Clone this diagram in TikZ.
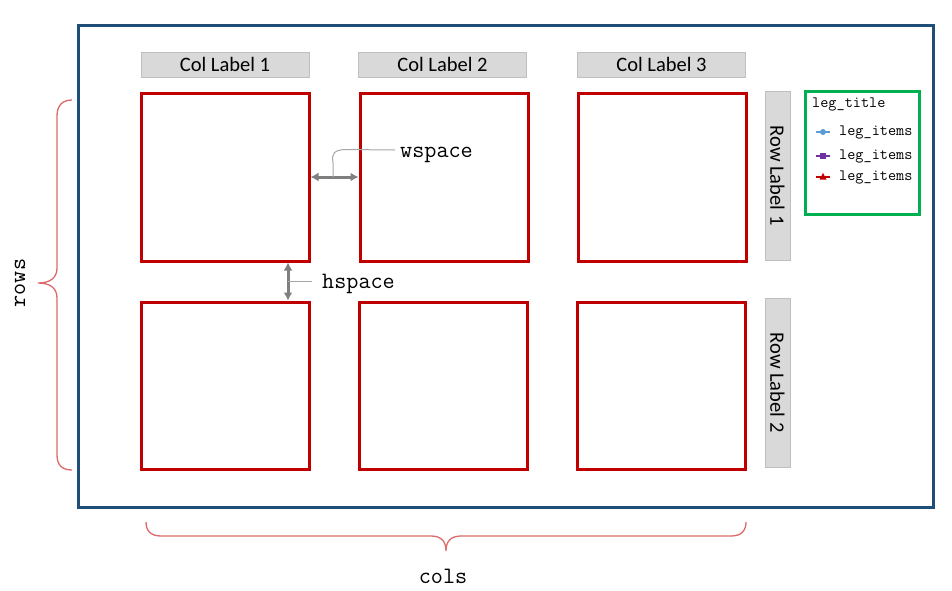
\documentclass[tikz,border=0pt]{standalone}
\usepackage{fontspec}
\setmainfont{Carlito}
\usetikzlibrary{arrows.meta,calc}
\definecolor{frameblue}{HTML}{1F4E79}
\definecolor{cellred}{HTML}{C00000}
\definecolor{labgray}{HTML}{D9D9D9}
\definecolor{labedge}{HTML}{BFBFBF}
\definecolor{leggreen}{HTML}{00B050}
\definecolor{arrgray}{HTML}{7F7F7F}
\definecolor{callgray}{HTML}{A6A6A6}
\definecolor{bracered}{HTML}{DD6A6A}
\definecolor{mkblue}{HTML}{5B9BD5}
\definecolor{mkpurple}{HTML}{7030A0}
\tikzset{
  cellbox/.style={draw=cellred, line width=3pt, minimum width=168pt, minimum height=168pt, inner sep=0pt},
  collab/.style={draw=labedge, fill=labgray, line width=1pt, minimum width=168pt, minimum height=25pt, inner sep=0pt, font=\fontsize{20.5}{22}\selectfont},
  rowlab/.style={draw=labedge, fill=labgray, line width=1pt, minimum width=169pt, minimum height=25pt, inner sep=0pt, rotate=-90, font=\fontsize{20.5}{22}\selectfont},
  garrow/.style={draw=arrgray, line width=3pt, {Latex[length=8pt,width=9pt]}-{Latex[length=8pt,width=9pt]}},
  callout/.style={draw=callgray, line width=1pt},
  monolab/.style={font=\ttfamily\fontsize{23.5}{25}\selectfont, inner sep=0pt},
  legtext/.style={font=\ttfamily\fontsize{15.8}{17}\selectfont, inner sep=0pt, anchor=west},
  bracestyle/.style={draw=bracered, line width=1.3pt},
  legline/.style={line width=2pt}
}
\begin{document}
\begin{tikzpicture}[x=1pt,y=-1pt]
\useasboundingbox (0,0) rectangle (952,590);
% outer frame
\node[draw=frameblue, line width=3pt, minimum width=855pt, minimum height=482pt, inner sep=0pt] (frame) at (505.5,266) {};
% column labels
\node[collab] (cl1) at (225,64.5) {Col Label 1};
\node[collab] (cl2) at (442.5,64.5) {Col Label 2};
\node[collab] (cl3) at (661.5,64.5) {Col Label 3};
% cells
\node[cellbox] (c11) at (225,177) {};
\node[cellbox] (c12) at (444,177) {};
\node[cellbox] (c13) at (662,177) {};
\node[cellbox, minimum height=167pt] (c21) at (225,385.5) {};
\node[cellbox, minimum height=167pt] (c22) at (443,385.5) {};
\node[cellbox, minimum height=167pt] (c23) at (661,385.5) {};
% row labels
\node[rowlab] (rl1) at (777.5,175.5) {Row Label 1};
\node[rowlab] (rl2) at (777.5,382.5) {Row Label 2};
% legend
\node[draw=leggreen, line width=3pt, minimum width=114pt, minimum height=123pt, inner sep=0pt] (leg) at (862,152.5) {};
\node[legtext] (lt) at (812,104) {leg\_title};
\coordinate (m1) at (823,132);
\coordinate (m2) at (823,156);
\coordinate (m3) at (823,177);
\draw[legline, mkblue] (816,132) -- (830,132);
\fill[mkblue] (m1) circle (3pt);
\draw[legline, mkpurple] (816,156) -- (830,156);
\fill[mkpurple] ($(m2)+(-3,-3)$) rectangle ++(6,6);
\draw[legline, cellred] (816,177) -- (830,177);
\fill[cellred] (823,173) -- (826.5,179.5) -- (819.5,179.5) -- cycle;
\node[legtext] (li1) at (839,132) {leg\_items};
\node[legtext] (li2) at (839,156) {leg\_items};
\node[legtext] (li3) at (839,177) {leg\_items};
% wspace
\draw[garrow] (c11.east) -- (c12.west);
\coordinate (wmid) at ($(c11.east)!0.47!(c12.west)$);
\node[monolab, anchor=west] (ws) at (400,155) {wspace};
\coordinate (wend) at (395,150);
\draw[callout] (wmid) -- ++(0,-14) .. controls (331,153) and (335,150) .. (345,149.5) -- (wend);
% hspace
\coordinate (hx) at (288,0);
\draw[garrow] (c11.south -| hx) -- (c21.north -| hx);
\coordinate (hmid) at ($(c11.south -| hx)!0.5!(c21.north -| hx)$);
\node[monolab, anchor=west] (hs) at (322,284) {hspace};
\draw[callout] (hmid) -- ++(24,0);
% rows brace
\draw[bracestyle] (72,100) .. controls (62,100) and (57,106) .. (57,116) -- (57,268)
   .. controls (57,278) and (50,283) .. (38,283)
   .. controls (50,283) and (57,288) .. (57,298) -- (57,455)
   .. controls (57,465) and (62,470) .. (72,470);
\node[monolab, rotate=90] (rows) at (20,283) {rows};
% cols brace
\draw[bracestyle] (146,522) .. controls (146,531) and (151,536) .. (161,536) -- (431,536)
   .. controls (441,536) and (446,541) .. (446,551)
   .. controls (446,541) and (451,536) .. (461,536) -- (731,536)
   .. controls (741,536) and (746,531) .. (746,522);
\node[monolab] (cols) at (443,576) {cols};
\end{tikzpicture}
\end{document}
